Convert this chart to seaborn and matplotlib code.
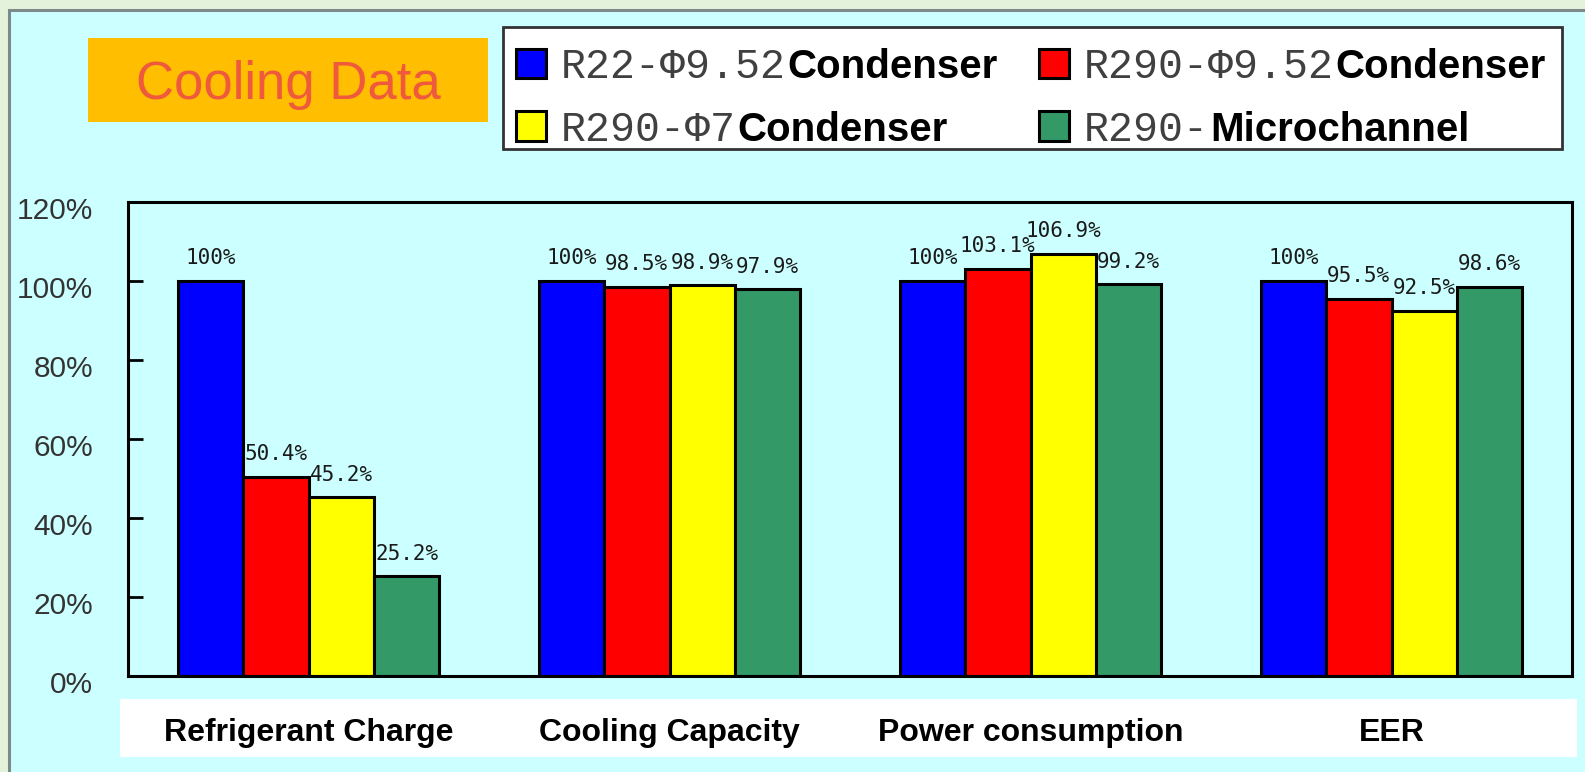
import matplotlib
matplotlib.use("Agg")
import matplotlib.pyplot as plt
import seaborn as sns
import pandas as pd
from matplotlib.patches import Rectangle
from matplotlib.font_manager import FontProperties
from matplotlib.transforms import ScaledTranslation

# ---------------- data ----------------
categories = ["Refrigerant Charge", "Cooling Capacity", "Power consumption", "EER"]
series_prefix = ["R22-Φ9.52", "R290-Φ9.52", "R290-Φ7", "R290-"]
series_suffix = ["Condenser", "Condenser", "Condenser", "Microchannel"]
series_colors = ["#0000FF", "#FF0000", "#FFFF00", "#339966"]
r22_952 = [100, 100, 100, 100]
r290_952 = [50.4, 98.5, 103.1, 95.5]
r290_7 = [45.2, 98.9, 106.9, 92.5]
r290_micro = [25.2, 97.9, 99.2, 98.6]
series_values = [r22_952, r290_952, r290_7, r290_micro]
y_ticks = [0, 20, 40, 60, 80, 100, 120]
title_text = "Cooling Data"

series_full = [p + s for p, s in zip(series_prefix, series_suffix)]
df = pd.DataFrame({
    "category": [c for _ in series_full for c in categories],
    "series": [s for s in series_full for _ in categories],
    "value": [v for vals in series_values for v in vals],
})

# ---------------- figure ----------------
W, H = 1585, 772
fig = plt.figure(figsize=(W / 100, H / 100), dpi=100)
fig.patch.set_facecolor("#E4F2DC")
CYAN = "#CCFFFF"


def fx(px):
    return px / W


def fy(py):
    return 1 - py / H


def rect(x0, y0, x1, y1, **kw):
    r = Rectangle((fx(x0), fy(y1)), fx(x1) - fx(x0), fy(y0) - fy(y1),
                  transform=fig.transFigure, **kw)
    fig.add_artist(r)
    return r


# slide panel
rect(9, 10, 1700, 900, facecolor=CYAN, edgecolor="#7E8A8A", linewidth=2.2, zorder=-3)
# white band behind category labels
rect(120, 699, 1577, 757, facecolor="white", edgecolor="none", zorder=-2)
# orange title box
rect(88, 38, 488, 122, facecolor="#FFBE00", edgecolor="none", zorder=1)
fig.text(fx(288), fy(99), title_text, ha="center", va="baseline", fontsize=38,
         color="#F05A3C", family="Liberation Sans", zorder=2)
# legend box
rect(503, 27, 1562, 149, facecolor="white", edgecolor="#333333", linewidth=2.0, zorder=1)

# ---------------- axes ----------------
ax = fig.add_axes([fx(128), fy(676), fx(1572) - fx(128), fy(202) - fy(676)])
ax.set_facecolor(CYAN)

sns.barplot(data=df, x="category", y="value", hue="series", order=categories,
            hue_order=series_full, palette=series_colors, width=0.725,
            saturation=1, edgecolor="black", linewidth=2.2, errorbar=None,
            legend=False, ax=ax)

for cont, vals in zip(ax.containers, series_values):
    ax.bar_label(cont, labels=[f"{v:g}%" for v in vals], padding=9,
                 fontsize=15, family="DejaVu Sans Mono", color="#1a1a1a")

ax.set_xlim(-0.5, 3.5)
ax.set_ylim(0, 120)
ax.set_xlabel("")
ax.set_ylabel("")
ax.set_yticks(y_ticks)
ax.set_yticklabels([f"{t}%" for t in y_ticks], family="Liberation Sans",
                   fontsize=21.5, color="#333333")
ax.tick_params(axis="y", direction="in", length=11, width=2.0, pad=25,
               color="black")
ax.set_xticks(range(len(categories)))
ax.tick_params(axis="x", length=0, pad=46.8)
ax.set_xticklabels(categories, family="Liberation Sans", fontsize=23,
                   fontweight="bold", color="black")
for lbl in ax.get_xticklabels():
    lbl.set_va("baseline")
for sp in ax.spines.values():
    sp.set_visible(True)
    sp.set_linewidth(2.2)
    sp.set_color("black")
# y tick labels sit slightly below their ticks in the reference
shift = ScaledTranslation(0, -4 / 72, fig.dpi_scale_trans)
for tick in ax.yaxis.get_major_ticks():
    tick.label1.set_transform(tick.label1.get_transform() + shift)

# ---------------- legend ----------------
order = [0, 2, 1, 3]
handles = [ax.containers[i] for i in order]
labels = [series_prefix[i] for i in order]
leg = fig.legend(handles, labels, ncol=2, loc="upper left",
                 bbox_to_anchor=(fx(516), fy(47)), bbox_transform=fig.transFigure,
                 frameon=False,
                 prop=FontProperties(family=["Liberation Mono", "DejaVu Sans Mono"], size=30),
                 handlelength=0.72, handleheight=0.72, handletextpad=0.36,
                 columnspacing=6.07, labelspacing=0.55, borderpad=0, borderaxespad=0)
for t in leg.get_texts():
    t.set_color("#404040")

fig.canvas.draw()
renderer = fig.canvas.get_renderer()
inv = fig.transFigure.inverted()
for t, i in zip(leg.get_texts(), order):
    bb = t.get_window_extent(renderer)
    base = t.get_transform().transform(t.get_position())
    x, y = inv.transform((bb.x1 + 1, base[1]))
    fig.text(x, y, series_suffix[i], ha="left", va="baseline", fontsize=29,
             fontweight="bold", family="Liberation Sans", color="black", zorder=6)

fig.savefig("out.png", dpi=100, facecolor=fig.get_facecolor())
